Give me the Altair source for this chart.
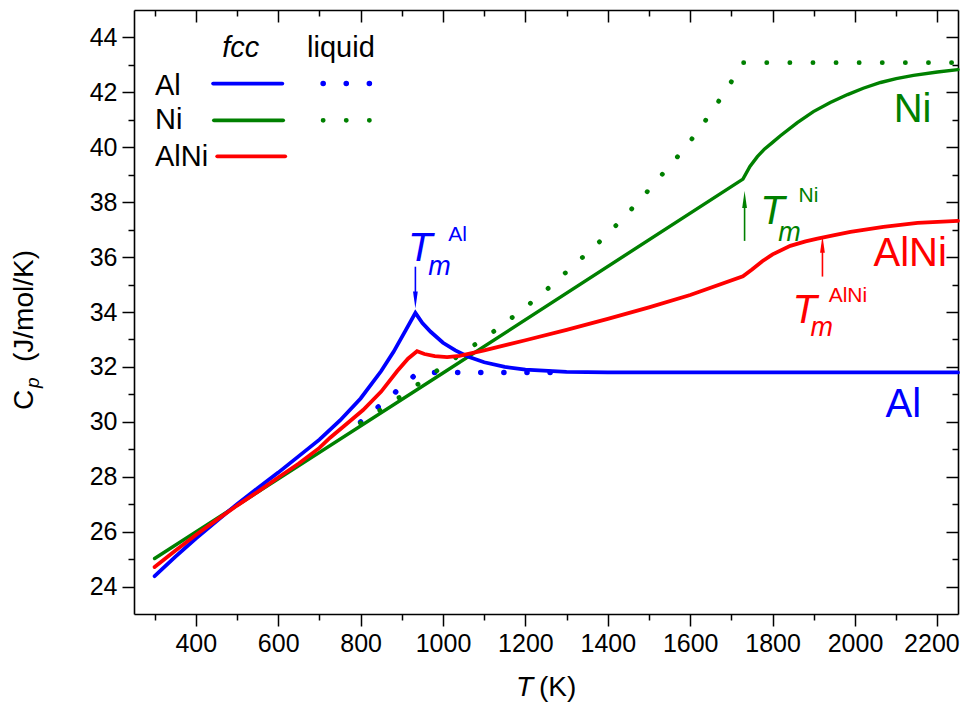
import altair as alt
import pandas as pd

# ---------------- data ----------------
al_fcc_T = [300, 350, 400, 450, 500, 550, 600, 650, 700, 750, 800, 850, 880, 910, 933,
            950, 970, 1000, 1030, 1060, 1100, 1150, 1200, 1300, 1400, 1600, 2250]
al_fcc_cp = [24.38, 25.08, 25.75, 26.38, 27.0, 27.58, 28.15, 28.75, 29.35, 30.05, 30.85, 31.85, 32.55, 33.35, 33.97,
             33.6, 33.28, 32.88, 32.6, 32.38, 32.17, 32.0, 31.9, 31.82, 31.8, 31.8, 31.8]

al_liq_T = [800, 860, 918, 940, 1300]
al_liq_cp = [29.99, 30.76, 31.52, 31.8, 31.8]

ni_fcc_T = [300, 1000, 1728, 1745, 1763, 1780, 1800, 1819, 1860, 1899, 1940, 1982, 2020, 2062, 2100, 2142, 2200, 2250]
ni_fcc_cp = [25.02, 31.78, 38.84, 39.3, 39.66, 39.93, 40.18, 40.42, 40.9, 41.3, 41.63, 41.92, 42.15, 42.36, 42.5, 42.62, 42.74, 42.83]

ni_liq_T = [800, 900, 1005, 1115, 1175, 1236, 1290, 1343, 1396, 1445, 1491, 1537, 1581, 1622, 1661, 1700, 1728, 2250]
ni_liq_cp = [29.95, 30.95, 32.07, 33.2, 33.88, 34.6, 35.33, 36.05, 36.78, 37.54, 38.3, 39.1, 39.86, 40.65, 41.49, 42.39, 43.08, 43.08]

alni_T = [300, 350, 400, 450, 500, 550, 600, 650, 700, 726, 760, 806, 850, 889, 915, 937,
          955, 980, 1010, 1040, 1100, 1200, 1300, 1400, 1500, 1600, 1728,
          1750, 1775, 1800, 1843, 1880, 1909, 1950, 1989, 2069, 2152, 2250]
alni_cp = [24.71, 25.3, 25.88, 26.42, 26.95, 27.45, 27.97, 28.48, 29.05, 29.42, 29.85, 30.43, 31.1, 31.85, 32.3, 32.57,
           32.47, 32.39, 32.36, 32.4, 32.6, 32.97, 33.35, 33.75, 34.17, 34.62, 35.3,
           35.55, 35.85, 36.1, 36.41, 36.57, 36.67, 36.8, 36.92, 37.1, 37.25, 37.32]

x_ticks = list(range(300, 2201, 100))
y_ticks = list(range(24, 45, 1))

BLUE, GREEN, RED = "#0000FF", "#008000", "#FF0000"
FONT = "Liberation Sans, Arial, sans-serif"

W, H = 824, 604
XS = alt.Scale(domain=[250, 2250], nice=False, zero=False)
YS = alt.Scale(domain=[23, 45], nice=False, zero=False)


def df(T, cp):
    return pd.DataFrame({"T": T, "Cp": cp})


def enc(chart, xaxis=None, yaxis=None):
    return chart.encode(
        x=alt.X("T:Q", scale=XS, axis=xaxis),
        y=alt.Y("Cp:Q", scale=YS, axis=yaxis),
    )


def solid(T, cp, color, width=3.5):
    return enc(alt.Chart(df(T, cp)).mark_line(color=color, strokeWidth=width, strokeCap="round"))


def dotted(T, cp, color, width=5):
    return enc(alt.Chart(df(T, cp)).mark_line(color=color, strokeWidth=width,
                                               strokeDash=[0.1, 23], strokeCap="round"))


def label(x, y, text, color="black", size=28, style="normal", align="left"):
    return alt.Chart(pd.DataFrame({"T": [x], "Cp": [y], "t": [text]})).mark_text(
        color=color, fontSize=size, fontStyle=style, font=FONT, align=align, baseline="alphabetic"
    ).encode(x=alt.X("T:Q", scale=XS, axis=None), y=alt.Y("Cp:Q", scale=YS, axis=None), text="t:N")


def pix_label(px, py, text, size=28, style="normal", angle=0):
    return alt.Chart(pd.DataFrame({"t": [text]})).mark_text(
        color="black", fontSize=size, fontStyle=style, font=FONT, align="left",
        baseline="alphabetic", angle=angle
    ).encode(x=alt.value(px), y=alt.value(py), text="t:N")


def arrow(x, y_from, y_to, y_head, color, up=True):
    rule = alt.Chart(pd.DataFrame({"T": [x], "Cp": [y_from], "Cp2": [y_to]})).mark_rule(
        color=color, strokeWidth=1.6
    ).encode(x=alt.X("T:Q", scale=XS, axis=None), y=alt.Y("Cp:Q", scale=YS, axis=None), y2="Cp2:Q")
    shape = "M-0.28,1L0.28,1L0,-1Z" if up else "M-0.28,-1L0.28,-1L0,1Z"
    head = alt.Chart(pd.DataFrame({"T": [x], "Cp": [y_head]})).mark_point(
        shape=shape, size=290, filled=True, color=color, opacity=1, strokeWidth=0
    ).encode(x=alt.X("T:Q", scale=XS, axis=None), y=alt.Y("Cp:Q", scale=YS, axis=None))
    return [rule, head]


x_axis = alt.Axis(
    values=x_ticks, format="d", title=None, grid=False,
    labelExpr="datum.value % 200 === 0 ? datum.label : ''",
    labelFont=FONT, labelFontSize=25, labelColor="black", labelPadding=5, labelOverlap=False,
    labelFlush=False,
    labelOffset={"condition": {"test": "datum.value === 2200", "value": -6}, "value": 0},
    tickSize={"condition": {"test": "datum.value % 200 === 0", "value": 12}, "value": 6},
    tickColor="black", tickWidth=1.5, domainColor="black", domainWidth=1.6, orient="bottom",
)
y_axis = alt.Axis(
    values=y_ticks, format="d", title=None, grid=False,
    labelExpr="datum.value % 2 === 0 ? datum.label : ''",
    labelFont=FONT, labelFontSize=25, labelColor="black", labelPadding=5, labelOverlap=False,
    labelFlush=False,
    tickSize={"condition": {"test": "datum.value % 2 === 0", "value": 12}, "value": 6},
    tickColor="black", tickWidth=1.5, domainColor="black", domainWidth=1.6, orient="left",
)
x_top = alt.Axis(
    values=x_ticks, title=None, grid=False, labels=False, orient="bottom", offset=-H,
    tickSize={"condition": {"test": "datum.value % 200 === 0", "value": 12}, "value": 6},
    tickColor="black", tickWidth=1.5, domainColor="black", domainWidth=1.6,
)
y_right = alt.Axis(
    values=y_ticks, title=None, grid=False, labels=False, orient="left", offset=-W,
    tickSize={"condition": {"test": "datum.value % 2 === 0", "value": 12}, "value": 6},
    tickColor="black", tickWidth=1.5, domainColor="black", domainWidth=1.6,
)

axes_layer = enc(alt.Chart(df(al_fcc_T, al_fcc_cp)).mark_point(opacity=0), x_axis, y_axis)
frame = enc(alt.Chart(df(al_fcc_T, al_fcc_cp)).mark_point(opacity=0), x_top, y_right)

curves = [
    dotted(al_liq_T, al_liq_cp, BLUE, 5.5),
    dotted(ni_liq_T, ni_liq_cp, GREEN, 4.8),
    solid(ni_fcc_T, ni_fcc_cp, GREEN, 3.4),
    solid(al_fcc_T, al_fcc_cp, BLUE, 3.8),
    solid(alni_T, alni_cp, RED, 3.8),
]

legend = [
    label(464, 43.30, "fcc", size=29, style="italic"),
    label(670, 43.30, "liquid", size=29),
    label(301, 41.92, "Al", size=29),
    label(301, 40.65, "Ni", size=29),
    label(301, 39.31, "AlNi", size=29),
    solid([442, 610], [42.32, 42.32], BLUE, 3.8),
    solid([444, 612], [40.98, 40.98], GREEN, 3.8),
    solid([452, 617], [39.67, 39.67], RED, 3.8),
    dotted([709, 824], [42.32, 42.32], BLUE, 5.5),
    dotted([709, 826], [40.98, 40.98], GREEN, 4.8),
]

notes = [
    # series labels
    label(2094, 40.91, "Ni", GREEN, 40),
    label(2045, 35.69, "AlNi", RED, 40),
    label(2074, 30.18, "Al", BLUE, 40),
    # Tm Al
    label(915, 35.87, "T", BLUE, 40, "italic"),
    label(964, 35.33, "m", BLUE, 27, "italic"),
    label(1013, 36.6, "Al", BLUE, 21),
    *arrow(933, 35.65, 34.6, 34.44, BLUE, up=False),
    # Tm Ni
    label(1770, 37.21, "T", GREEN, 40, "italic"),
    label(1814, 36.59, "m", GREEN, 27, "italic"),
    label(1863, 38.0, "Ni", GREEN, 21),
    *arrow(1732, 36.59, 37.95, 38.10, GREEN, up=True),
    # Tm AlNi
    label(1848, 33.59, "T", RED, 40, "italic"),
    label(1892, 33.12, "m", RED, 27, "italic"),
    label(1936, 34.38, "AlNi", RED, 21),
    *arrow(1921, 35.29, 36.35, 36.47, RED, up=True),
]

titles = [
    pix_label(-101, 400, "C", 28, angle=270),
    pix_label(-95, 378, "p", 19, "italic", angle=270),
    pix_label(-101, 352, "(J/mol/K)", 28, angle=270),
    pix_label(382, 686, "T", 28, "italic"),
    pix_label(405, 686, "(K)", 28),
]

chart = alt.layer(axes_layer, frame, *curves, *legend, *notes, *titles).resolve_scale(
    x="shared", y="shared"
).resolve_axis(
    x="independent", y="independent"
).properties(
    width=W, height=H,
    autosize=alt.AutoSizeParams(type="none"),
    padding={"left": 126, "top": 2, "right": 2, "bottom": 95},
).configure_view(stroke=None)

chart.save("out.html", embed_options={"renderer": "svg", "actions": False})
